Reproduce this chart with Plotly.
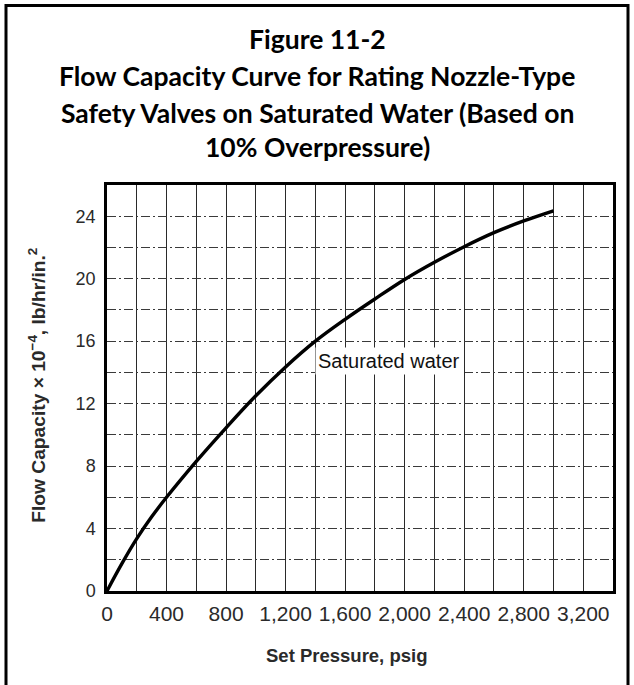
import plotly.graph_objects as go

# Data
set_pressure = [0, 100, 200, 300, 400, 600, 800, 1000, 1200, 1400, 1600, 1800, 2000, 2200, 2400, 2600, 2800, 3000]
flow_capacity = [0, 1.75, 3.35, 4.75, 6.0, 8.3, 10.45, 12.5, 14.35, 16.0, 17.4, 18.7, 19.95, 21.05, 22.05, 22.95, 23.7, 24.35]

x_tick_vals = [0, 400, 800, 1200, 1600, 2000, 2400, 2800, 3200]
x_tick_text = ["0", "400", "800", "1,200", "1,600", "2,000", "2,400", "2,800", "3,200"]
y_tick_vals = [0, 4, 8, 12, 16, 20, 24]
y_tick_text = ["0", "4", "8", "12", "16", "20", "24"]

title_lines = [
    "Figure 11-2",
    "Flow Capacity Curve for Rating Nozzle-Type",
    "Safety Valves on Saturated Water (Based on",
    "10% Overpressure)",
]
title_line_y = [39, 76, 113, 147]  # page-pixel centres of each title line

W, H = 634, 685
L, R, T, B = 107, 21, 185, 94
pw, ph = W - L - R, H - T - B

def px_to_paper_x(px):
    return (px - L) / pw

def px_to_paper_y(py):
    return (H - B - py) / ph

fig = go.Figure()

fig.add_trace(go.Scatter(
    x=set_pressure, y=flow_capacity, mode="lines",
    line=dict(color="black", width=3.4, shape="spline", smoothing=1.0),
    showlegend=False, hoverinfo="skip",
))

fig.update_xaxes(
    range=[0, 3400], tickvals=x_tick_vals, ticktext=x_tick_text,
    showgrid=True, gridcolor="#2a2a2a", gridwidth=1.3,
    minor=dict(dtick=200, tick0=0, showgrid=True, gridcolor="#2a2a2a", gridwidth=1.3),
    showline=True, mirror=True, linecolor="black", linewidth=2.5,
    zeroline=False, ticks="", ticklabelstandoff=2,
    tickfont=dict(family="Arial, Liberation Sans, sans-serif", size=21, color="#2a2a2a"),
)
fig.update_yaxes(
    range=[0, 26], tickvals=y_tick_vals, ticktext=y_tick_text,
    showgrid=True, gridcolor="#3a3a3a", gridwidth=1.1, griddash="9px,3px,2px,3px",
    minor=dict(dtick=2, tick0=0, showgrid=True, gridcolor="#3a3a3a", gridwidth=1.1, griddash="9px,3px,2px,3px"),
    showline=True, mirror=True, linecolor="black", linewidth=2.5,
    zeroline=False, ticks="", ticklabelstandoff=5,
    tickfont=dict(family="Arial, Liberation Sans, sans-serif", size=18, color="#2a2a2a"),
)

annotations = []
for line, ypx in zip(title_lines, title_line_y):
    annotations.append(dict(
        text=f"<b>{line}</b>", x=px_to_paper_x(317), y=px_to_paper_y(ypx),
        xref="paper", yref="paper", xanchor="center", yanchor="middle",
        showarrow=False, font=dict(family="Lato, Noto Sans, sans-serif", size=26.5, color="black"),
    ))
annotations.append(dict(
    text="Saturated water", x=1898, y=14.7, xref="x", yref="y",
    showarrow=False, bgcolor="white", borderpad=2,
    font=dict(family="Arial, Liberation Sans, sans-serif", size=20, color="#111111"),
))
annotations.append(dict(
    text="<b>Set Pressure, psig</b>", x=px_to_paper_x(346.5), y=px_to_paper_y(655),
    xref="paper", yref="paper", showarrow=False, xanchor="center", yanchor="middle",
    font=dict(family="Arial, Liberation Sans, sans-serif", size=18.5, color="#2a2a2a"),
))
annotations.append(dict(
    text="<b>Flow Capacity × 10<sup>−4</sup>, lb/hr/in.<sup>2</sup></b>",
    x=px_to_paper_x(36.7), y=px_to_paper_y(385),
    xref="paper", yref="paper", showarrow=False, textangle=-90,
    xanchor="center", yanchor="middle",
    font=dict(family="Arial, Liberation Sans, sans-serif", size=19.2, color="#2a2a2a"),
))

shapes = [dict(
    type="rect", xref="paper", yref="paper",
    x0=px_to_paper_x(6), x1=px_to_paper_x(628),
    y0=px_to_paper_y(700), y1=px_to_paper_y(5.5),
    line=dict(color="black", width=3), fillcolor="rgba(0,0,0,0)", layer="above",
)]

fig.update_layout(
    width=W, height=H, margin=dict(l=L, r=R, t=T, b=B, pad=0),
    paper_bgcolor="white", plot_bgcolor="white",
    annotations=annotations, shapes=shapes, showlegend=False,
)

fig.write_html("out.html", config={"displayModeBar": False},
               post_script="document.body.style.margin='0px';")
